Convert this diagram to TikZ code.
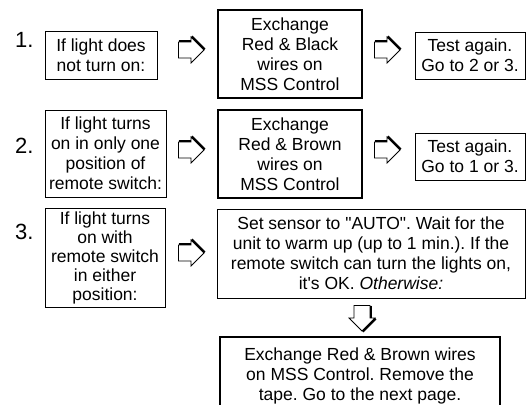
\documentclass[tikz,border=0pt]{standalone}
\usepackage{fontspec}
\setmainfont{Liberation Sans}[Ligatures=TeXOff]
\frenchspacing
\begin{document}
\begin{tikzpicture}[x=1pt,y=-1pt,
  box/.style={draw, line width=0.9pt, align=center, inner sep=0pt, font=\fontsize{17.5}{20}\selectfont},
  thickbox/.style={box, line width=2.6pt},
  num/.style={font=\fontsize{22}{24}\selectfont, inner sep=0pt, anchor=base west},
  blockarrow/.pic={
    \draw[line width=0.8pt, line join=miter] (-12.5,-8) -- (0,-8) -- (0,-13) -- (13,0) -- (0,13) -- (0,8) -- (-12.5,8) -- cycle;
    \draw[line width=2.2pt] (-12.5,-8.7) -- (0.4,-8.7);
    \draw[line width=2.2pt] (0.7,-13.7) -- (13.7,-0.7);
  }]
\useasboundingbox (0,0) rectangle (526,404);
\clip (0,0) rectangle (526,404);
% numbers
\node[num] (n1) at (15,48) {1.};
\node[num] (n2) at (15,153) {2.};
\node[num] (n3) at (15,239) {3.};
% row 1
\node[box, minimum width=112pt, minimum height=48pt] (a1) at (101,55) {If light does\\not turn on:};
\node[thickbox, minimum width=144pt, minimum height=88pt] (b1) at (290,54) {Exchange\\Red \& Black\\wires on\\MSS Control};
\node[box, minimum width=110pt, minimum height=47pt] (c1) at (470,55.5) {Test again.\\Go to 2 or 3.};
% row 2
\node[box, minimum width=121pt, minimum height=87pt] (a2) at (105.5,153.5) {If light turns\\on in only one\\position of\\remote switch:};
\node[thickbox, minimum width=144pt, minimum height=88pt] (b2) at (290,154) {Exchange\\Red \& Brown\\wires on\\MSS Control};
\node[box, minimum width=110pt, minimum height=47pt] (c2) at (470,156.5) {Test again.\\Go to 1 or 3.};
% row 3
\node[box, minimum width=120pt, minimum height=99pt, font=\fontsize{17.5}{19}\selectfont] (a3) at (105,257.5) {If light turns\\on with\\remote switch\\in either\\position:};
\node[box, minimum width=308pt, minimum height=89pt] (b3) at (371,253.5) {Set sensor to "AUTO". Wait for the\\unit to warm up (up to 1 min.). If the\\remote switch can turn the lights on,\\it's OK. \textit{Otherwise:}};
\node[thickbox, minimum width=280pt, minimum height=78pt] (d3) at (360,376) {Exchange Red \& Brown wires\\on MSS Control. Remove the\\tape. Go to the next page.};
% arrows
\pic at (191,50) {blockarrow};
\pic at (387,50) {blockarrow};
\pic at (191,150) {blockarrow};
\pic at (387,150) {blockarrow};
\pic at (191,253) {blockarrow};
\pic[rotate=-90] at (362,318) {blockarrow};
\end{tikzpicture}
\end{document}
